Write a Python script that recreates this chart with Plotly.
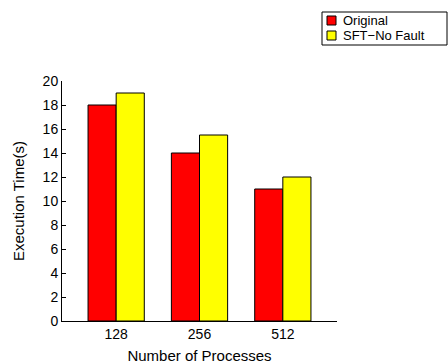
import plotly.graph_objects as go

processes = ["128", "256", "512"]
original = [18, 14, 11]
sft_no_fault = [19, 15.5, 12]

series_names = ["Original", "SFT\u2212No Fault"]
series_colors = ["#ff0000", "#ffff00"]

FONT = "Liberation Sans, Arial, Helvetica, sans-serif"

# plot area in pixels (left, right, top, bottom) on a 448x364 canvas
W, H = 448, 364
L, R, T, B = 62, 337, 81, 321


def px(x):
    return (x - L) / (R - L)


def py(y):
    return (B - y) / (B - T)


fig = go.Figure()
for name, vals, col in zip(series_names, [original, sft_no_fault], series_colors):
    fig.add_trace(go.Bar(
        x=processes, y=vals, name=name,
        marker=dict(color=col, line=dict(color="black", width=1)),
    ))

# compact boxed key in the top-right corner
ROW = 15
shapes = [dict(type="rect", xref="paper", yref="paper",
               x0=px(322), x1=px(447), y0=py(12 + 2 * ROW + 3), y1=py(12),
               line=dict(color="black", width=1), fillcolor="white", layer="above")]
annotations = []
for i, (name, col) in enumerate(zip(series_names, series_colors)):
    top = 16 + i * ROW
    shapes.append(dict(type="rect", xref="paper", yref="paper",
                       x0=px(327), x1=px(336), y0=py(top + 9), y1=py(top),
                       line=dict(color="black", width=1), fillcolor=col, layer="above"))
    annotations.append(dict(xref="paper", yref="paper", x=px(342), y=py(top + 4.5),
                            xanchor="left", yanchor="middle", showarrow=False,
                            borderpad=0,
                            text=name, font=dict(family=FONT, size=13, color="black")))

fig.update_layout(
    width=W, height=H,
    margin=dict(l=L, r=W - R, t=T, b=H - B, autoexpand=False),
    paper_bgcolor="white", plot_bgcolor="white",
    font=dict(family=FONT, size=14, color="black"),
    barmode="group", bargap=0.325, bargroupgap=0,
    showlegend=False,
    shapes=shapes, annotations=annotations,
    xaxis=dict(
        range=[-0.65, 2.65], showline=True, linecolor="black", linewidth=1,
        ticks="", showgrid=False, zeroline=False, automargin=False,
        tickfont=dict(size=14),
        title=dict(text="Number of Processes", font=dict(size=15), standoff=10),
    ),
    yaxis=dict(
        range=[0, 20], tickvals=list(range(0, 21, 2)),
        showline=True, linecolor="black", linewidth=1,
        ticks="inside", ticklen=4, tickcolor="black",
        showgrid=False, zeroline=False, automargin=False,
        tickfont=dict(size=14),
        title=dict(text="Execution Time(s)", font=dict(size=15), standoff=14),
    ),
)

fig.write_html("out.html")
